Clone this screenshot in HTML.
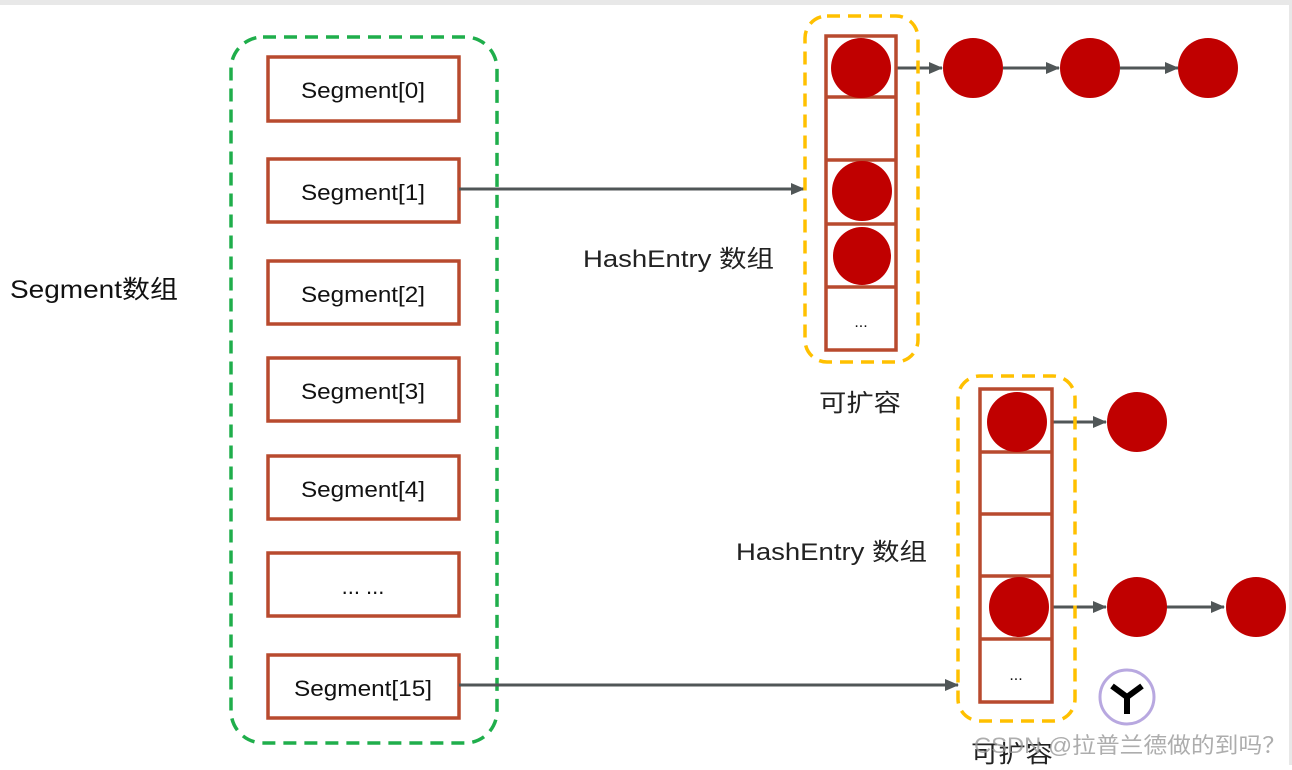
<!DOCTYPE html>
<html><head><meta charset="utf-8"><style>
html,body{margin:0;padding:0;background:#fff;}
svg text{font-family:"Liberation Sans","Noto Sans CJK SC",sans-serif;}
</style></head><body>
<svg width="1292" height="765" viewBox="0 0 1292 765" xmlns="http://www.w3.org/2000/svg">
<defs><marker id="a" markerWidth="14" markerHeight="14" refX="13" refY="7" orient="auto" markerUnits="userSpaceOnUse"><path d="M0,1 L14,7 L0,13 z" fill="#505657"/></marker></defs>
<rect x="0" y="0" width="1292" height="5" fill="#e8e8e8"/>
<rect x="1289" y="5" width="3" height="760" fill="#e8e8e8"/>
<text x="10" y="298" font-size="25" fill="#111" textLength="168" lengthAdjust="spacingAndGlyphs">Segment数组</text>
<rect x="231" y="37" width="266" height="706" rx="32" fill="none" stroke="#1fae4b" stroke-width="3.5" stroke-dasharray="13,8"/>
<g fill="#fff" stroke="#b84a2e" stroke-width="3.5">
<rect x="268" y="57" width="191" height="64"/><rect x="268" y="159" width="191" height="63"/>
<rect x="268" y="261" width="191" height="63"/><rect x="268" y="358" width="191" height="63"/>
<rect x="268" y="456" width="191" height="63"/><rect x="268" y="553" width="191" height="63"/>
<rect x="268" y="655" width="191" height="63"/></g>
<g font-size="22" fill="#111" text-anchor="middle">
<text x="363" y="98" textLength="124" lengthAdjust="spacingAndGlyphs">Segment[0]</text><text x="363" y="200" textLength="124" lengthAdjust="spacingAndGlyphs">Segment[1]</text>
<text x="363" y="302" textLength="124" lengthAdjust="spacingAndGlyphs">Segment[2]</text><text x="363" y="399" textLength="124" lengthAdjust="spacingAndGlyphs">Segment[3]</text>
<text x="363" y="497" textLength="124" lengthAdjust="spacingAndGlyphs">Segment[4]</text><text x="363" y="594">... ...</text>
<text x="363" y="696" textLength="138" lengthAdjust="spacingAndGlyphs">Segment[15]</text></g>
<g stroke="#505657" stroke-width="3" fill="none" marker-end="url(#a)">
<line x1="459" y1="189" x2="804" y2="189"/><line x1="459" y1="685" x2="958" y2="685"/>
<line x1="888" y1="68" x2="942" y2="68"/><line x1="1003" y1="68" x2="1059" y2="68"/><line x1="1120" y1="68" x2="1178" y2="68"/>
<line x1="1045" y1="422" x2="1106" y2="422"/><line x1="1046" y1="607" x2="1106" y2="607"/><line x1="1166" y1="607" x2="1224" y2="607"/>
</g>
<text x="583" y="267" font-size="24" fill="#222" textLength="191" lengthAdjust="spacingAndGlyphs">HashEntry 数组</text>
<text x="736" y="560" font-size="24" fill="#222" textLength="191" lengthAdjust="spacingAndGlyphs">HashEntry 数组</text>
<g fill="#fff" stroke="#b84a2e" stroke-width="3.5">
<rect x="826" y="36" width="70" height="314"/>
<line x1="826" y1="97" x2="896" y2="97"/><line x1="826" y1="160" x2="896" y2="160"/><line x1="826" y1="224" x2="896" y2="224"/><line x1="826" y1="287" x2="896" y2="287"/>
<rect x="980" y="389" width="72" height="313"/>
<line x1="980" y1="452" x2="1052" y2="452"/><line x1="980" y1="514" x2="1052" y2="514"/><line x1="980" y1="576" x2="1052" y2="576"/><line x1="980" y1="639" x2="1052" y2="639"/>
</g>
<g fill="#c00000">
<circle cx="861" cy="68" r="30"/><circle cx="862" cy="191" r="30"/><circle cx="862" cy="256" r="29"/>
<circle cx="973" cy="68" r="30"/><circle cx="1090" cy="68" r="30"/><circle cx="1208" cy="68" r="30"/>
<circle cx="1017" cy="422" r="30"/><circle cx="1137" cy="422" r="30"/>
<circle cx="1019" cy="607" r="30"/><circle cx="1137" cy="607" r="30"/><circle cx="1256" cy="607" r="30"/>
</g>
<text x="861" y="327" font-size="16" fill="#111" text-anchor="middle">...</text>
<text x="1016" y="680" font-size="16" fill="#111" text-anchor="middle">...</text>
<rect x="805" y="16" width="113" height="346" rx="22" fill="none" stroke="#ffc000" stroke-width="3.5" stroke-dasharray="13,8"/>
<rect x="958" y="376" width="117" height="345" rx="22" fill="none" stroke="#ffc000" stroke-width="3.5" stroke-dasharray="13,8"/>
<text x="860" y="411" font-size="24" fill="#222" text-anchor="middle" textLength="82" lengthAdjust="spacingAndGlyphs">可扩容</text>
<text x="1012" y="762" font-size="24" fill="#222" text-anchor="middle" textLength="82" lengthAdjust="spacingAndGlyphs">可扩容</text>
<circle cx="1127" cy="697" r="27" fill="#fff" stroke="#b8a8e0" stroke-width="3"/>
<path d="M1112,686 L1127,697 L1142,686 M1127,697 L1127,714" stroke="#000" stroke-width="6" fill="none"/>
<text x="1130" y="753" font-size="22" fill="#999" fill-opacity="0.8" text-anchor="middle" textLength="312" lengthAdjust="spacingAndGlyphs">CSDN @拉普兰德做的到吗？</text>
</svg>
</body></html>
